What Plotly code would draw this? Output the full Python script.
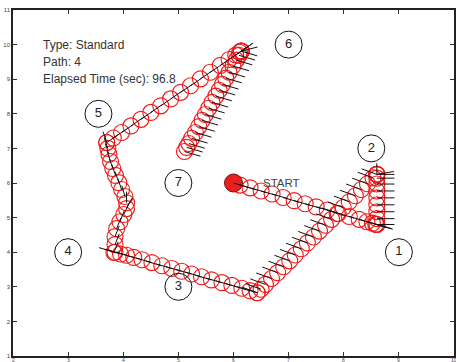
import math
import plotly.graph_objects as go

# ---- robot poses along the path (x, y, heading in degrees) ----
# start -> waypoint 1
seg_a_x = [6.00, 6.12, 6.30, 6.50, 6.70, 6.90, 7.10, 7.30, 7.50, 7.70, 7.90, 8.10, 8.28, 8.42, 8.52, 8.58, 8.60]
seg_a_y = [6.00, 5.94, 5.86, 5.77, 5.68, 5.58, 5.49, 5.40, 5.31, 5.22, 5.12, 5.03, 4.95, 4.88, 4.84, 4.81, 4.80]
seg_a_h = [-24.8] * 17

# waypoint 1 -> waypoint 2 (sideways move, heading held)
seg_b_x = [8.60, 8.60, 8.60, 8.60, 8.60, 8.60, 8.60, 8.60, 8.60, 8.60, 8.60]
seg_b_y = [4.80, 4.97, 5.17, 5.37, 5.57, 5.77, 5.97, 6.14, 6.25, 6.25, 6.25]
seg_b_h = [0, 0, 0, 0, 0, 0, 0, 0, 0, 15, 90]

# waypoint 2 -> waypoint 3
seg_c_x = [8.60, 8.53, 8.43, 8.32, 8.21, 8.10, 7.99, 7.88, 7.78, 7.67, 7.56, 7.45,
           7.34, 7.23, 7.12, 7.02, 6.91, 6.80, 6.69, 6.58, 6.50, 6.43]
seg_c_y = [6.25, 6.15, 5.98, 5.81, 5.63, 5.46, 5.29, 5.12, 4.95, 4.78, 4.61, 4.44,
           4.27, 4.10, 3.92, 3.75, 3.58, 3.41, 3.24, 3.07, 2.93, 2.83]
seg_c_h = [150] * 22

# waypoint 3 -> waypoint 4
seg_d_x = [6.43, 6.30, 6.15, 5.97, 5.79, 5.60, 5.42, 5.24, 5.06, 4.88, 4.70, 4.52, 4.34, 4.19, 4.06, 3.95, 3.85]
seg_d_y = [2.83, 2.89, 2.96, 3.04, 3.12, 3.20, 3.29, 3.37, 3.45, 3.53, 3.61, 3.70, 3.78, 3.85, 3.91, 3.95, 4.00]
seg_d_h = [155.6] * 17

# waypoint 4 -> waypoint 5
seg_e_x = [3.83, 3.85, 3.85, 3.88, 3.94, 4.01, 4.06, 4.06, 4.03, 3.97, 3.92, 3.86, 3.81, 3.77, 3.74, 3.72, 3.70]
seg_e_y = [3.99, 4.22, 4.45, 4.68, 4.88, 5.09, 5.26, 5.43, 5.61, 5.81, 6.01, 6.22, 6.42, 6.62, 6.83, 7.00, 7.17]
seg_e_h = [76, 76, 76, 76, 76, 74, 72, 90, 100, 102, 102, 102, 102, 102, 102, 102, 102]

# waypoint 5 -> waypoint 6
seg_f_x = [3.70, 3.82, 3.97, 4.14, 4.32, 4.50, 4.68, 4.86, 5.04, 5.22, 5.40, 5.58, 5.76, 5.92, 6.04, 6.11, 6.14, 6.14]
seg_f_y = [7.17, 7.30, 7.46, 7.65, 7.84, 8.04, 8.23, 8.43, 8.62, 8.81, 9.01, 9.20, 9.40, 9.57, 9.70, 9.78, 9.81, 9.81]
seg_f_h = [47.3] * 17 + [22]

# waypoint 6 -> waypoint 7
seg_g_x = [6.14, 6.10, 6.05, 5.99, 5.92, 5.86, 5.80, 5.74, 5.68, 5.61, 5.55, 5.49, 5.43, 5.37, 5.31, 5.24, 5.19, 5.15, 5.11]
seg_g_y = [9.81, 9.69, 9.55, 9.38, 9.20, 9.03, 8.85, 8.68, 8.51, 8.33, 8.16, 7.98, 7.81, 7.63, 7.46, 7.29, 7.14, 7.03, 6.91]
seg_g_h = [-25] * 19

start_x, start_y = [6.0], [6.0]

# numbered waypoint labels
label_x = [9.0, 8.5, 5.0, 3.0, 3.55, 7.0, 5.0]
label_y = [4.0, 7.0, 3.0, 4.0, 8.0, 10.0, 6.0]
label_txt = ["1", "2", "3", "4", "5", "6", "7"]

info_lines = ["Type: Standard", "Path: 4", "Elapsed Time (sec): 96.8"]
info_y = [10.0, 9.5, 9.0]

# x axis tick labels, set just under the bottom frame line
x_ticks = [2, 3, 4, 5, 6, 7, 8, 9, 10]

HEADING_LEN = 0.32
FONT = "Liberation Sans, Arial, sans-serif"

pose_x = seg_a_x + seg_b_x + seg_c_x + seg_d_x + seg_e_x + seg_f_x + seg_g_x
pose_y = seg_a_y + seg_b_y + seg_c_y + seg_d_y + seg_e_y + seg_f_y + seg_g_y
pose_h = seg_a_h + seg_b_h + seg_c_h + seg_d_h + seg_e_h + seg_f_h + seg_g_h

# heading indicator segments, one per pose
hx, hy = [], []
for x, y, h in zip(pose_x, pose_y, pose_h):
    r = math.radians(h)
    hx += [x, x + HEADING_LEN * math.cos(r), None]
    hy += [y, y + HEADING_LEN * math.sin(r), None]

fig = go.Figure()

fig.add_trace(go.Scatter(
    x=pose_x, y=pose_y, mode="markers",
    marker=dict(symbol="circle-open", size=16, color="#f01818", line=dict(width=1.1)),
    hoverinfo="skip"))

fig.add_trace(go.Scatter(
    x=start_x, y=start_y, mode="markers",
    marker=dict(symbol="circle", size=18, color="#e82020", line=dict(color="#7a1010", width=1)),
    hoverinfo="skip"))

fig.add_trace(go.Scatter(
    x=hx, y=hy, mode="lines", line=dict(color="#111111", width=1), hoverinfo="skip"))

fig.add_trace(go.Scatter(
    x=label_x, y=label_y, mode="markers+text", text=label_txt, textposition="middle center",
    textfont=dict(family=FONT, size=13, color="#222222"),
    marker=dict(symbol="circle-open", size=27, color="#111111", line=dict(width=1)),
    hoverinfo="skip"))

for txt, yy in zip(info_lines, info_y):
    fig.add_annotation(x=2.5, y=yy, text=txt, showarrow=False, xanchor="left", yanchor="middle",
                       font=dict(family=FONT, size=12, color="#333333"))

fig.add_annotation(x=6.5, y=6.0, text="START", showarrow=False, xanchor="left", yanchor="middle",
                   font=dict(family=FONT, size=11.5, color="#444444"))

for t in x_ticks:
    fig.add_annotation(x=t, xref="x", y=0, yref="paper", text=str(t), showarrow=False,
                       xanchor="center", yanchor="top", yshift=0, borderpad=0,
                       font=dict(family=FONT, size=5, color="#444444"))

axis_style = dict(
    showgrid=False, zeroline=False, dtick=1, ticks="inside", ticklen=4, tickwidth=1,
    tickcolor="#333333", showline=True, linecolor="#222222", linewidth=1.5, mirror="allticks",
    automargin=False,
    tickfont=dict(family=FONT, size=6, color="#444444"),
)

fig.update_layout(
    width=456, height=362,
    margin=dict(l=13, r=2, t=10, b=6, autoexpand=False),
    paper_bgcolor="white", plot_bgcolor="white",
    showlegend=False,
    xaxis=dict(range=[2, 10], showticklabels=False, **axis_style),
    yaxis=dict(range=[1, 11], **axis_style),
)

fig.write_html("out.html")
